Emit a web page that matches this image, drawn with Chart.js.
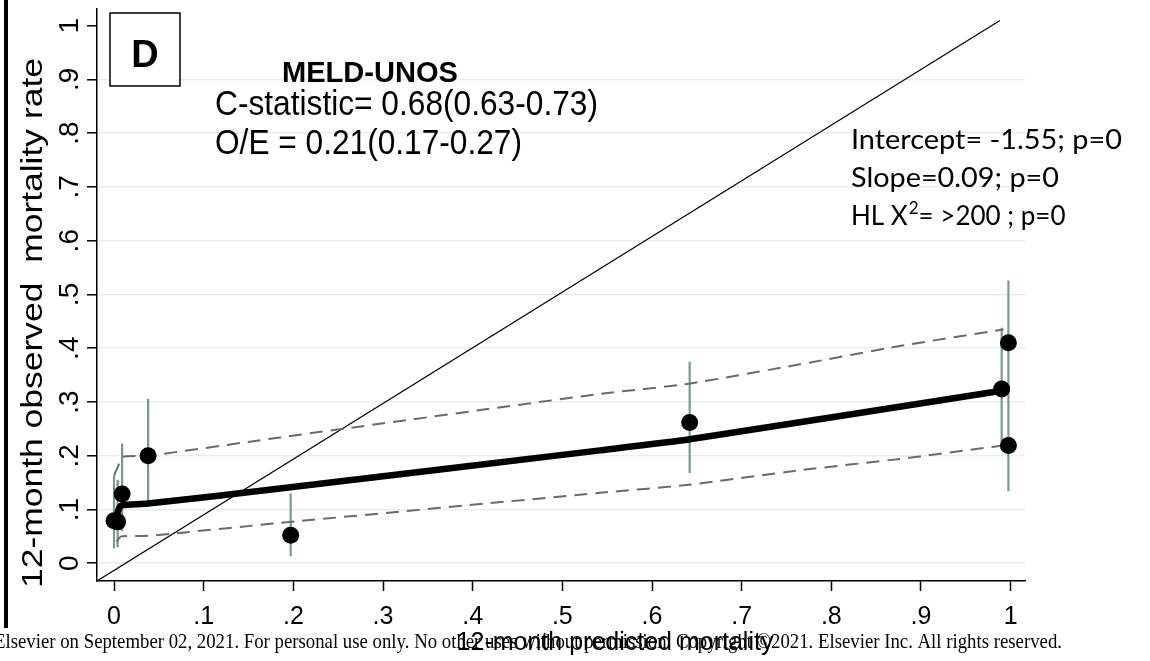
<!DOCTYPE html>
<html>
<head>
<meta charset="utf-8">
<script src="https://cdn.jsdelivr.net/npm/chart.js@4.4.1/dist/chart.umd.min.js"></script>
<style>
html,body{margin:0;padding:0;background:#fff;}
#wrap{width:1150px;height:661px;position:relative;}
</style>
</head>
<body>
<div id="wrap"><canvas id="c" width="1150" height="661"></canvas></div>
<script>
// ---- data ----
const xTicks = [0, 0.1, 0.2, 0.3, 0.4, 0.5, 0.6, 0.7, 0.8, 0.9, 1];
const xTickLabels = ['0', '.1', '.2', '.3', '.4', '.5', '.6', '.7', '.8', '.9', '1'];
const yTicks = [0, 0.1, 0.2, 0.3, 0.4, 0.5, 0.6, 0.7, 0.8, 0.9, 1];
const yTickLabels = ['0', '.1', '.2', '.3', '.4', '.5', '.6', '.7', '.8', '.9', '1'];

// observed groups (predicted, observed) with 95% CI
const pointX = [0.000, 0.004, 0.009, 0.038, 0.197, 0.642, 0.990, 0.9975, 0.9975];
const pointY = [0.079, 0.077, 0.129, 0.200, 0.052, 0.262, 0.324, 0.410, 0.219];
const ciLow  = [0.028, 0.030, 0.060, 0.114, 0.013, 0.168, 0.225, 0.300, 0.134];
const ciHigh = [0.163, 0.155, 0.223, 0.306, 0.130, 0.375, 0.438, 0.526, 0.330];

// lowess fit and its confidence band
const fitX = [0.001, 0.006, 0.009, 0.038, 0.185, 0.542, 0.644, 0.990];
const fitY = [0.079, 0.104, 0.108, 0.111, 0.139, 0.210, 0.231, 0.321];
const upX  = [0.000, 0.0056, 0.009, 0.038, 0.185, 0.542, 0.641, 0.765, 0.876, 0.992];
const upY  = [0.163, 0.185, 0.198, 0.200, 0.234, 0.315, 0.334, 0.370, 0.404, 0.435];
const loX  = [0.003, 0.008, 0.038, 0.185, 0.542, 0.641, 0.765, 0.876, 0.992];
const loY  = [0.040, 0.050, 0.051, 0.075, 0.131, 0.146, 0.173, 0.194, 0.219];

// reference (perfect calibration) line
const refX = [-0.019, 0.988];
const refY = [-0.033, 1.0096];

const xTitle = '12-month predicted mortality';
const yTitle = '12-month observed  mortality rate';
const panelLabel = 'D';
const leftNotes = ['MELD-UNOS', 'C-statistic= 0.68(0.63-0.73)', 'O/E = 0.21(0.17-0.27)'];
const rightNotes = ['Intercept= -1.55; p=0', 'Slope=0.09; p=0'];
const hlNote = ['HL X', '2', '= >200 ; p=0'];
const footer = 'Elsevier on September 02, 2021. For personal use only. No other uses without permission. Copyright \u00a92021. Elsevier Inc. All rights reserved.';

// ---- build datasets ----
const zip = (xs, ys) => xs.map((x, i) => ({x: x, y: ys[i]}));
const errData = [];
pointX.forEach((x, i) => {
  errData.push({x: x, y: ciLow[i]});
  errData.push({x: x, y: ciHigh[i]});
  errData.push({x: x, y: null});
});

function drawText(ctx, text, x, y, font, opts) {
  opts = opts || {};
  ctx.save();
  ctx.font = font;
  ctx.fillStyle = opts.color || '#000';
  ctx.textBaseline = 'alphabetic';
  ctx.textAlign = 'left';
  let sx = 1;
  const w = ctx.measureText(text).width;
  if (opts.width) sx = opts.width / w;
  const sy = opts.sy || 1;
  ctx.translate(x, y);
  if (opts.rot) ctx.rotate(opts.rot);
  ctx.scale(sx, sy);
  let dx = 0;
  if (opts.align === 'center') dx = -w / 2;
  else if (opts.align === 'right') dx = -w;
  ctx.fillText(text, dx, 0);
  ctx.restore();
  return w * sx;
}

const annot = {
  id: 'annot',
  beforeDraw(chart) {
    const ctx = chart.ctx;
    ctx.save();
    ctx.fillStyle = '#fff';
    ctx.fillRect(0, 0, chart.width, chart.height);
    ctx.restore();
  },
  afterDraw(chart) {
    const ctx = chart.ctx;
    const ys = chart.scales.y;
    // left panel border
    ctx.save();
    ctx.fillStyle = '#000';
    ctx.fillRect(4, 0, 4, 628);
    ctx.restore();
    // y tick labels (rotated)
    ys.ticks.forEach((t, i) => {
      const py = ys.getPixelForValue(t.value);
      drawText(ctx, yTickLabels[i], 78, py, '28px "Liberation Sans", Arial, sans-serif', {rot: -Math.PI / 2, align: 'center'});
    });
    // y title
    drawText(ctx, yTitle, 42, 323, '29px "Liberation Sans", Arial, sans-serif', {rot: -Math.PI / 2, align: 'center', width: 530});
    // x title
    drawText(ctx, xTitle, 615, 650, '25px "Liberation Sans", Arial, sans-serif', {align: 'center'});
    // footer
    drawText(ctx, footer, -6, 648, '22px "Liberation Serif", "Times New Roman", serif', {width: 1068});
    // panel label box
    ctx.save();
    ctx.fillStyle = '#fff';
    ctx.fillRect(110, 13, 70, 73);
    ctx.strokeStyle = '#000';
    ctx.lineWidth = 1.5;
    ctx.strokeRect(110, 13, 70, 73);
    ctx.restore();
    drawText(ctx, panelLabel, 145, 67, 'bold 38px "Liberation Sans", Arial, sans-serif', {align: 'center'});
    // left notes
    drawText(ctx, leftNotes[0], 282, 82, 'bold 29px "Liberation Sans", Arial, sans-serif', {width: 176});
    drawText(ctx, leftNotes[1], 215, 115, '32px "Liberation Sans", Arial, sans-serif', {width: 383, sy: 1.08});
    drawText(ctx, leftNotes[2], 215, 154, '32px "Liberation Sans", Arial, sans-serif', {width: 307, sy: 1.08});
    // right notes
    const rf = '26px Lato, "Open Sans", sans-serif';
    drawText(ctx, rightNotes[0], 851, 149, rf, {width: 271});
    drawText(ctx, rightNotes[1], 851, 187, rf, {width: 208});
    let x = 851;
    x += drawText(ctx, hlNote[0], x, 225, rf);
    x += drawText(ctx, hlNote[1], x + 1, 214, '17px Lato, "Open Sans", sans-serif') + 1;
    drawText(ctx, hlNote[2], x, 225, rf);
  }
};

new Chart(document.getElementById('c'), {
  type: 'scatter',
  data: {
    datasets: [
      {
        label: 'groups',
        data: zip(pointX, pointY),
        pointRadius: 8.5,
        pointHoverRadius: 8.5,
        pointBackgroundColor: '#000',
        pointBorderColor: '#000',
        pointBorderWidth: 0,
        showLine: false
      },
      {
        label: 'lowess',
        data: zip(fitX, fitY),
        showLine: true,
        borderColor: '#000',
        borderWidth: 6.5,
        borderJoinStyle: 'round',
        pointRadius: 0,
        tension: 0.2
      },
      {
        label: 'upper',
        data: zip(upX, upY),
        showLine: true,
        borderColor: '#6a6a6a',
        borderWidth: 2,
        borderDash: [13, 8],
        pointRadius: 0,
        tension: 0.2
      },
      {
        label: 'lower',
        data: zip(loX, loY),
        showLine: true,
        borderColor: '#6a6a6a',
        borderWidth: 2,
        borderDash: [13, 8],
        pointRadius: 0,
        tension: 0.2
      },
      {
        label: 'ci',
        data: errData,
        showLine: true,
        spanGaps: false,
        borderColor: '#7a998d',
        borderWidth: 2.2,
        pointRadius: 0
      },
      {
        label: 'ref',
        data: zip(refX, refY),
        showLine: true,
        borderColor: '#000',
        borderWidth: 1.2,
        pointRadius: 0
      }
    ]
  },
  options: {
    responsive: false,
    animation: false,
    devicePixelRatio: 1,
    layout: {padding: {left: 0, top: 6, right: 125, bottom: 0}},
    plugins: {legend: {display: false}, tooltip: {enabled: false}},
    scales: {
      x: {
        type: 'linear',
        min: -0.019,
        max: 1.016,
        afterBuildTicks: s => { s.ticks = xTicks.map(v => ({value: v})); },
        afterFit: s => { s.height = 80; },
        ticks: {
          callback: (v) => xTickLabels[xTicks.findIndex(t => Math.abs(t - v) < 1e-9)],
          font: {family: '"Liberation Sans", Arial, sans-serif', size: 25},
          color: '#000',
          padding: 11,
          maxRotation: 0,
          minRotation: 0
        },
        grid: {drawOnChartArea: false, drawTicks: true, tickLength: 10, tickColor: '#000', tickWidth: 1.5},
        border: {display: true, color: '#000', width: 1.5}
      },
      y: {
        type: 'linear',
        min: -0.033,
        max: 1.031,
        afterBuildTicks: s => { s.ticks = yTicks.map(v => ({value: v})); },
        afterFit: s => { s.width = 97; },
        ticks: {
          callback: (v) => yTickLabels[yTicks.findIndex(t => Math.abs(t - v) < 1e-9)],
          color: 'rgba(0,0,0,0)',
          font: {size: 10}
        },
        grid: {
          color: (c) => (c.tick && c.tick.value === 1) ? 'rgba(0,0,0,0)' : '#e6eff0',
          lineWidth: 1.6,
          drawTicks: true,
          tickLength: 10,
          tickColor: '#000',
          tickWidth: 1.5
        },
        border: {display: true, color: '#000', width: 1.5}
      }
    }
  },
  plugins: [annot]
});
</script>
</body>
</html>
